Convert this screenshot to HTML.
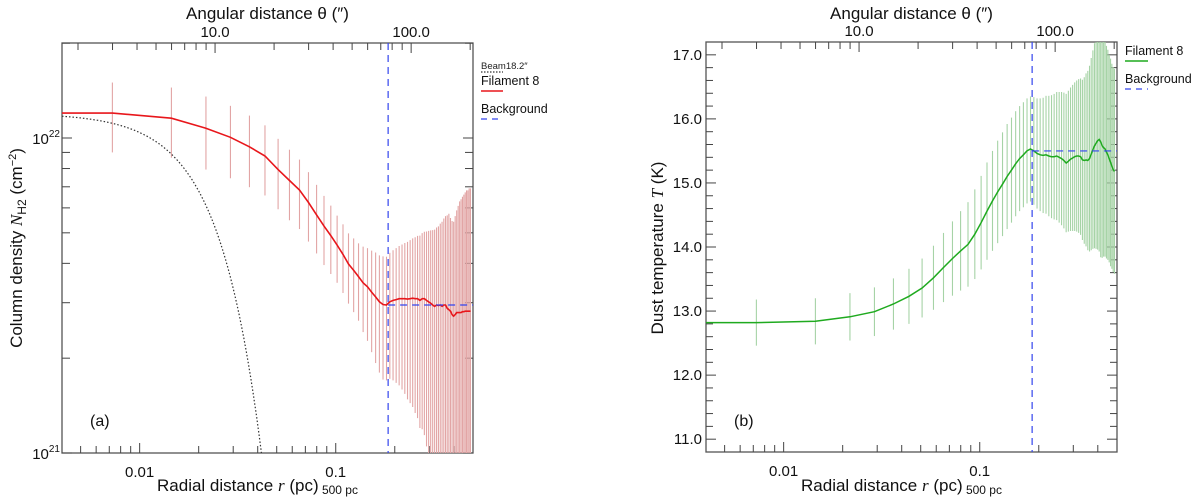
<!DOCTYPE html>
<html><head><meta charset="utf-8">
<style>
html,body{margin:0;padding:0;background:#fff;width:1200px;height:502px;overflow:hidden;}
svg{display:block;font-family:"Liberation Sans",sans-serif;overflow:hidden;}
</style></head>
<body>
<svg id="fig" width="1200" height="502" viewBox="0 0 1200 502" xmlns="http://www.w3.org/2000/svg">
<defs>
<clipPath id="clipA"><rect x="62" y="43" width="411" height="410"/></clipPath>
<clipPath id="clipB"><rect x="706" y="42" width="411" height="410"/></clipPath>
</defs>
<g id="panelA"></g>
<g id="panelB"></g>
</svg>
<script>
// ---- data ----
const barStep = 0.00726; // pc spacing of radial samples
const nDensity = [12.0,11.56,10.74,10.05,9.38,8.77,7.94,7.33,6.84,6.24,5.70,5.25,4.90,4.57,4.27,3.98,3.80,3.63,3.47,3.37,3.24,3.13,3.02,2.96,2.95,
3.02,3.05,3.07,3.09,3.09,3.09,3.08,3.09,3.10,3.09,3.09,3.05,3.09,3.09,3.05,3.02,2.99,2.95,2.92,2.95,2.94,2.95,2.92,2.95,2.95,2.88,2.85,2.82,2.75,2.72,2.75,2.79,2.79,2.79,2.79,2.81,2.81,2.82,2.82,2.82,2.82,2.82];
const nDensityErr = [3.0,2.9,2.8,2.6,2.4,2.2,2.0,1.85,1.7,1.55,1.4,1.3,1.2,1.1,1.05,1.0,1.0,1.0,1.05,1.1,1.15,1.2,1.22,1.25,1.25,
1.3,1.35,1.4,1.45,1.5,1.55,1.6,1.65,1.7,1.75,1.8,1.85,1.9,1.95,2.0,2.05,2.1,2.15,2.2,2.25,2.3,2.4,2.5,2.6,2.7,2.8,2.9,2.75,2.7,2.7,2.9,3.1,3.3,3.5,3.6,3.7,3.8,3.9,4.0,4.0,4.1,4.1];
const nCentre = 12.0;      // 1e21 cm^-2 at r=0
const nBackground = 2.95;  // 1e21 cm^-2
const beamFWHM = 18.2;     // arcsec
const tDust = [12.82,12.84,12.91,12.99,13.11,13.23,13.36,13.52,13.68,13.82,13.94,14.04,14.2,14.38,14.56,14.72,14.86,14.98,15.1,15.2,15.3,15.38,15.44,15.5,15.53,
15.5,15.46,15.44,15.43,15.44,15.42,15.41,15.41,15.42,15.4,15.38,15.35,15.31,15.34,15.37,15.39,15.41,15.42,15.42,15.41,15.36,15.35,15.36,15.35,15.38,15.45,15.52,15.58,15.62,15.66,15.68,15.64,15.58,15.55,15.53,15.48,15.44,15.38,15.32,15.26,15.21,15.18];
const tDustErr = [.36,.36,.37,.38,.40,.43,.46,.50,.54,.58,.62,.66,.70,.73,.76,.78,.80,.81,.82,.82,.82,.82,.82,.82,.82,
.84,.86,.88,.90,.92,.94,.96,.98,1.0,1.02,1.04,1.06,1.08,1.10,1.12,1.14,1.16,1.18,1.2,1.22,1.25,1.3,1.35,1.4,1.45,1.5,1.55,1.6,1.65,1.7,1.75,1.8,1.75,1.7,1.68,1.66,1.64,1.62,1.62,1.6,1.6,1.6];
const tCentre = 12.82;
const tBackground = 15.5;
const bgRadius = 0.185; // pc
const topTickLabels = ["10.0","100.0"];
const bottomTickLabels = ["0.01","0.1"];
const tempTickLabels = ["11.0","12.0","13.0","14.0","15.0","16.0","17.0"];

const NS = "http://www.w3.org/2000/svg";
const ARC = 500/206265; // pc per arcsec at 500 pc
function mk(parent, tag, attrs, text){
  const e = document.createElementNS(NS, tag);
  for (const k in attrs) e.setAttribute(k, attrs[k]);
  if (text !== undefined) e.textContent = text;
  parent.appendChild(e);
  return e;
}
function xScaleFactory(x0,x1,l0,l1){ return r => x0 + (Math.log10(r)-l0)/(l1-l0)*(x1-x0); }

function drawFrame(g, P, xs){
  const box = mk(g,'rect',{x:P.x0,y:P.y0,width:P.x1-P.x0,height:P.y1-P.y0,fill:'none',stroke:'#555','stroke-width':1.3});
  
  
  for (let d=-3; d<=0; d++){
    for (let m=1; m<10; m++){
      const r = m*Math.pow(10,d);
      const x = xs(r);
      if (x < P.x0+0.5 || x > P.x1-0.5) continue;
      const len = m===1?10:7;
      const t = mk(g,'line',{x1:x,x2:x,y1:P.y1,y2:P.y1-len,stroke:'#444','stroke-width':1});
      
      
    }
  }
  for (let d=0; d<=3; d++){
    for (let m=1; m<10; m++){
      const th = m*Math.pow(10,d);
      const x = xs(th*ARC);
      if (x < P.x0+0.5 || x > P.x1-0.5) continue;
      const len = m===1?10:7;
      const t = mk(g,'line',{x1:x,x2:x,y1:P.y0,y2:P.y0+len,stroke:'#444','stroke-width':1});
      
      
    }
  }
  bottomTickLabels.forEach(s=>{
    const t = mk(g,'text',{x:xs(parseFloat(s)),y:P.y1+24,'text-anchor':'middle','font-size':15,fill:'#111'},s);
    
    
  });
  topTickLabels.forEach(s=>{
    const t = mk(g,'text',{x:xs(parseFloat(s)*ARC),y:P.y0-6,'text-anchor':'middle','font-size':15,fill:'#111'},s);
    
    
  });
  const tt = mk(g,'text',{x:(P.x0+P.x1)/2,y:19,'text-anchor':'middle','font-size':17,fill:'#111'},'Angular distance θ (″)');
  
  
  const xt = mk(g,'text',{x:(P.x0+P.x1)/2-10,y:491,'text-anchor':'middle','font-size':17,fill:'#111'});
  
  
  mk(xt,'tspan',{},'Radial distance ');
  mk(xt,'tspan',{'font-style':'italic','font-family':'Liberation Serif, serif'},'r');
  mk(xt,'tspan',{},' (pc)');
  mk(xt,'tspan',{'font-size':12,dy:3},' 500 pc');
}

// ---------- Panel A ----------
(function(){
  const g = document.getElementById('panelA');
  const P = {x0:62,x1:473,y0:43,y1:453};
  const xs = xScaleFactory(P.x0,P.x1,-2.396,-0.30);
  const ys = n => P.y1 - (Math.log10(n*1e21)-21)*315;
  drawFrame(g,P,xs);
  for (let m=1; m<=20; m++){
    const n = m<=10 ? m : (m-9)*10;
    if (m>10 && n>20) continue;
    const y = ys(n);
    if (y < P.y0) continue;
    const major = (n===1||n===10);
    const len = major?10:8;
    const a = mk(g,'line',{x1:P.x0,x2:P.x0+len,y1:y,y2:y,stroke:'#444','stroke-width':1});
    
    
    const b = mk(g,'line',{x1:P.x1,x2:P.x1-len,y1:y,y2:y,stroke:'#444','stroke-width':1});
    
    
  }
  [[1,'21'],[10,'22']].forEach(([n,e])=>{
    const t = mk(g,'text',{x:P.x0-2,y:ys(n)+6,'text-anchor':'end','font-size':15,fill:'#111'});
    
    
    mk(t,'tspan',{},'10');
    mk(t,'tspan',{'font-size':10,dy:-7},e);
  });
  const yt = mk(g,'text',{transform:'translate(22,248) rotate(-90)','text-anchor':'middle','font-size':17,fill:'#111'});
  
  
  mk(yt,'tspan',{},'Column density ');
  mk(yt,'tspan',{'font-style':'italic','font-family':'Liberation Serif, serif'},'N');
  mk(yt,'tspan',{'font-size':12,dy:4},'H2');
  mk(yt,'tspan',{dy:-4},' (cm');
  mk(yt,'tspan',{'font-size':11,dy:-6},'−2');
  mk(yt,'tspan',{dy:6},')');

  const c = mk(g,'g',{'clip-path':'url(#clipA)'});
  nDensity.forEach((v,i)=>{
    const r = barStep*(i+1);
    const lo = Math.max(v - nDensityErr[i], 0.5);
    const e = mk(c,'line',{x1:xs(r),x2:xs(r),y1:ys(v+nDensityErr[i]),y2:ys(lo),stroke:'#e2a5a5','stroke-width':1.1});
    
    
  });
  const beamPc = beamFWHM*ARC;
  let bp = [];
  for (let k=0;k<=200;k++){
    const lr = -2.396 + k*(Math.log10(0.06)+2.396)/200;
    const r = Math.pow(10,lr);
    const v = nCentre*Math.exp(-4*Math.LN2*r*r/(beamPc*beamPc));
    bp.push(xs(r).toFixed(1)+','+ys(v).toFixed(1));
  }
  const beam = mk(c,'polyline',{points:bp.join(' '),fill:'none',stroke:'#333','stroke-width':1.2,'stroke-dasharray':'1.5,2'});
  
  
  let pts = [xs(0.00402).toFixed(1)+','+ys(nCentre).toFixed(1)];
  nDensity.forEach((v,i)=>pts.push(xs(barStep*(i+1)).toFixed(1)+','+ys(v).toFixed(1)));
  const line = mk(c,'polyline',{points:pts.join(' '),fill:'none',stroke:'#e8161b','stroke-width':1.6});
  
  
  const vl = mk(c,'line',{x1:xs(bgRadius),x2:xs(bgRadius),y1:P.y0,y2:P.y1,stroke:'#3344ee','stroke-width':1.2,'stroke-dasharray':'7,5'});
  
  
  const hl = mk(c,'line',{x1:xs(bgRadius),x2:P.x1,y1:ys(nBackground),y2:ys(nBackground),stroke:'#3344ee','stroke-width':1.2,'stroke-dasharray':'7,5'});
  
  
  const lab = mk(g,'text',{x:90,y:426,'font-size':16,fill:'#111'},'(a)');
  
  
  const L = mk(g,'g',{});
  
  
  const l1 = mk(L,'text',{x:481,y:69,'font-size':9.5,fill:'#222'},'Beam18.2″');
  
  
  mk(L,'line',{x1:481,x2:503,y1:72,y2:72,stroke:'#333','stroke-width':1.2,'stroke-dasharray':'1.5,1.5'});
  const l2 = mk(L,'text',{x:481,y:85,'font-size':12.5,fill:'#111'},'Filament 8');
  
  
  mk(L,'line',{x1:481,x2:503,y1:91,y2:91,stroke:'#e8161b','stroke-width':1.6});
  const l3 = mk(L,'text',{x:481,y:113,'font-size':12.5,fill:'#111'},'Background');
  
  
  mk(L,'line',{x1:481,x2:503,y1:119,y2:119,stroke:'#3344ee','stroke-width':1.2,'stroke-dasharray':'6,5'});
})();

// ---------- Panel B ----------
(function(){
  const g = document.getElementById('panelB');
  const P = {x0:706,x1:1117,y0:42,y1:452};
  const xs = xScaleFactory(P.x0,P.x1,-2.396,-0.30);
  const ys = t => P.y1 - (t-10.8)*64.06;
  drawFrame(g,P,xs);
  for (let k=0;k<=31;k++){
    const t = 11 + k*0.2;
    const y = ys(t);
    if (y < P.y0+1) continue;
    const major = k%5===0;
    const len = major?10:7;
    const a = mk(g,'line',{x1:P.x0,x2:P.x0+len,y1:y,y2:y,stroke:'#444','stroke-width':1});
    
    
    const b = mk(g,'line',{x1:P.x1,x2:P.x1-len,y1:y,y2:y,stroke:'#444','stroke-width':1});
    
    
  }
  tempTickLabels.forEach(s=>{
    const t = mk(g,'text',{x:P.x0-4,y:ys(parseFloat(s))+5,'text-anchor':'end','font-size':15,fill:'#111'},s);
    
    
  });
  const yt = mk(g,'text',{transform:'translate(663,248) rotate(-90)','text-anchor':'middle','font-size':17,fill:'#111'});
  
  
  mk(yt,'tspan',{},'Dust temperature ');
  mk(yt,'tspan',{'font-style':'italic','font-family':'Liberation Serif, serif'},'T');
  mk(yt,'tspan',{},' (K)');

  const c = mk(g,'g',{'clip-path':'url(#clipB)'});
  tDust.forEach((v,i)=>{
    const r = barStep*(i+1);
    const e = mk(c,'line',{x1:xs(r),x2:xs(r),y1:ys(v+tDustErr[i]),y2:ys(v-tDustErr[i]),stroke:'#a6d3a6','stroke-width':1.1});
    
    
  });
  let pts = [xs(0.00402).toFixed(1)+','+ys(tCentre).toFixed(1)];
  tDust.forEach((v,i)=>pts.push(xs(barStep*(i+1)).toFixed(1)+','+ys(v).toFixed(1)));
  const line = mk(c,'polyline',{points:pts.join(' '),fill:'none',stroke:'#1faa1f','stroke-width':1.5});
  
  
  const vl = mk(c,'line',{x1:xs(bgRadius),x2:xs(bgRadius),y1:P.y0,y2:P.y1,stroke:'#3344ee','stroke-width':1.2,'stroke-dasharray':'7,5'});
  
  
  const hl = mk(c,'line',{x1:xs(bgRadius),x2:P.x1,y1:ys(tBackground),y2:ys(tBackground),stroke:'#3344ee','stroke-width':1.2,'stroke-dasharray':'7,5'});
  
  
  const lab = mk(g,'text',{x:734,y:426,'font-size':16,fill:'#111'},'(b)');
  
  
  const L = mk(g,'g',{});
  
  
  const l2 = mk(L,'text',{x:1125,y:55,'font-size':12.5,fill:'#111'},'Filament 8');
  
  
  mk(L,'line',{x1:1125,x2:1148,y1:61,y2:61,stroke:'#1faa1f','stroke-width':1.5});
  const l3 = mk(L,'text',{x:1125,y:83,'font-size':12.5,fill:'#111'},'Background');
  
  
  mk(L,'line',{x1:1125,x2:1148,y1:89,y2:89,stroke:'#3344ee','stroke-width':1.2,'stroke-dasharray':'6,5'});
})();
</script>
</body></html>
